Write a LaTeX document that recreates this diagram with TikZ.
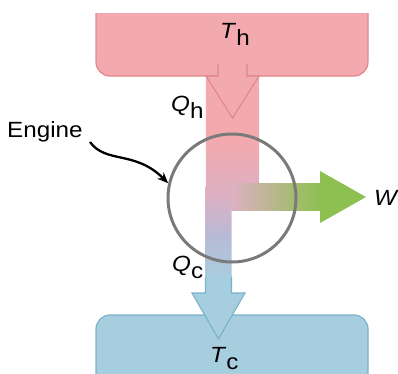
\documentclass[tikz,border=0pt]{standalone}
\usepackage{fontspec}
\setmainfont{Liberation Sans}[FakeStretch=1.1]
\usetikzlibrary{arrows.meta}
\definecolor{hot}{RGB}{242,170,174}
\definecolor{hotline}{RGB}{226,134,142}
\definecolor{cold}{RGB}{166,206,222}
\definecolor{coldline}{RGB}{122,178,202}
\definecolor{lav}{RGB}{184,186,214}
\definecolor{pinklav}{RGB}{222,176,194}
\definecolor{olive}{RGB}{194,192,160}
\definecolor{grn}{RGB}{141,192,80}
\definecolor{ring}{RGB}{122,122,122}
\pgfdeclareverticalshading{bandshade}{100bp}{color(0bp)=(cold); color(28bp)=(cold); color(38bp)=(lav); color(48bp)=(pinklav); color(60bp)=(hot); color(100bp)=(hot)}
\tikzset{
  lbl/.style={inner sep=0pt, font=\fontsize{22}{25}\selectfont, text=black},
  boxline/.style={line width=1.2pt, rounded corners=14pt},
  arrline/.style={line width=1.1pt, line join=miter},
}
\newcommand{\lowsub}[1]{\raisebox{-7pt}{#1}}
\begin{document}
\begin{tikzpicture}[x=1pt,y=-1pt]
\useasboundingbox (0,0) rectangle (398,373);
% reservoirs
\path[fill=hot, draw=hotline, boxline] (96,13) -- (96,76) -- (368,76) -- (368,13);
\path[fill=cold, draw=coldline, boxline] (96,385) -- (96,315) -- (368,315) -- (368,385);
% heat band
\path[shading=bandshade] (206,76) -- (259,76) -- (259,184) -- (231.5,184) -- (231.5,293) -- (205.5,293) -- cycle;
% work arrow
\shade[left color=pinklav, middle color=olive, right color=grn] (231.5,183) rectangle (321,210);
\fill[grn] (320,171) -- (366,197) -- (320,223) -- cycle;
% hot arrow
\fill[hot] (218,60) -- (218,76) -- (206,76) -- (232.5,118) -- (259,76) -- (247,76) -- (247,60) -- cycle;
\draw[hotline, arrline] (218,64) -- (218,76) -- (206,76) -- (232.5,118) -- (259,76) -- (247,76) -- (247,64);
% cold arrow
\fill[cold] (205.5,275) -- (205.5,293) -- (192,293) -- (218.5,339) -- (245,293) -- (231.5,293) -- (231.5,275) -- cycle;
\draw[coldline, arrline] (205.5,277) -- (205.5,293) -- (192,293) -- (218.5,339) -- (245,293) -- (231.5,293) -- (231.5,277);
% engine
\node[circle, draw=ring, line width=3pt, minimum size=128pt, inner sep=0pt] (eng) at (232,198) {};
% labels
\node[lbl, anchor=base west] (Th) at (220,38) {\textit{T}\lowsub{h}};
\node[lbl, anchor=base west] (Qh) at (171,111) {\textit{Q}\lowsub{h}};
\node[lbl, anchor=base west] (Qc) at (172,271) {\textit{Q}\lowsub{c}};
\node[lbl, anchor=base west] (Tc) at (210,362) {\textit{T}\lowsub{c}};
\node[lbl, anchor=base west] (W) at (374,205) {\textit{W}};
\node[lbl, anchor=base west] (lab) at (7,137) {Engine};
\coordinate (etail) at (90,142);
\draw[-{Stealth[length=11pt,width=9pt]}, line width=2.3pt] (etail) .. controls (106,164) and (135,150) .. (eng.167);
\end{tikzpicture}
\end{document}
